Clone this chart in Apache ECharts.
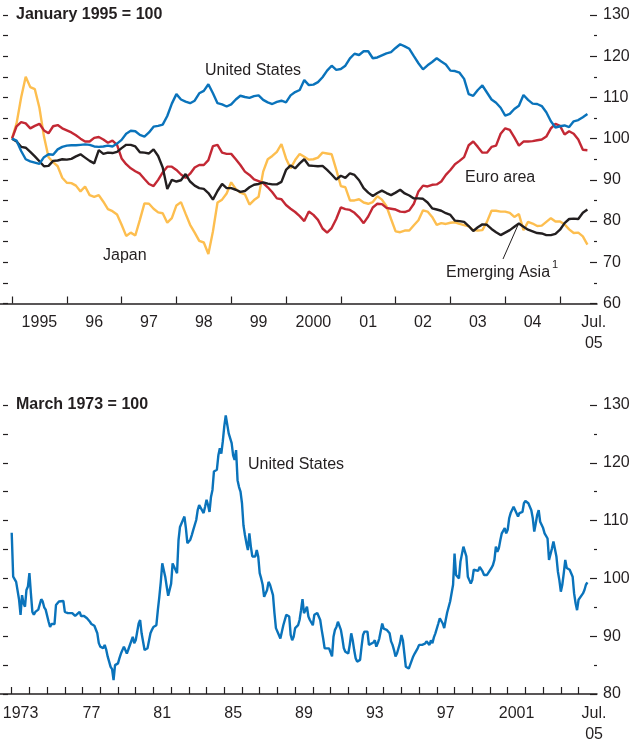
<!DOCTYPE html>
<html>
<head>
<meta charset="utf-8">
<script src="https://cdn.jsdelivr.net/npm/echarts@6/dist/echarts.min.js"></script>
<style>
  html, body { margin: 0; padding: 0; background: #fff; }
  #chart { width: 631px; height: 745px; }
</style>
</head>
<body>
<div id="chart"></div>
<script>
// top panel: monthly, Jan 1995 .. Jul 2005 (index 0 = Jan 1995)
const usTop = [100,99.5,97,95,94.5,94.2,93.9,95.5,96.2,96.1,97.4,98,
  98.3,98.4,98.4,98.5,98.6,98.5,98.1,98,98.1,98.3,98.1,98.8,
  99.7,101.2,101.9,101.8,100.9,100.5,101.5,102.9,103.1,103.4,105.5,108.5,
  110.8,109.5,109,108.6,109.2,111,111.6,113.2,111,108.6,108.3,107.8,
  108.3,109.5,110.4,110.1,109.9,110.3,110.5,109.4,108.8,108.4,108.9,109.2,
  108.8,110.5,111.3,111.8,114.2,113,113.1,113.7,114.9,116.5,117.7,116.7,
  116.9,117.7,119.5,120.6,120.3,121.2,121.2,119.5,119.7,120.2,120.7,121,
  122,122.9,122.4,121.8,120,118.3,116.8,117.8,118.6,119.5,118.7,118,
  116.5,116.4,116,114.5,110.8,110.4,111.8,112.9,111.2,109.5,108.7,107.5,
  105.6,106,107.2,108,110.6,109.4,108.5,108.4,107.9,106.4,104.2,102.7,
  103,103.2,102.8,104.2,104.5,105.2,106];
const euroTop = [100,103,104,103.7,102.5,103.1,103.6,102,101.3,103,103.3,102.5,
  102,101.5,100.8,100,99.3,99.3,100.2,100.4,99.8,99,99.5,98.5,
  95.2,93.8,92.8,92.1,91.5,90.2,89,88.5,90,91.8,93.2,93.2,
  92.4,91.3,90.5,91.5,93,93.6,93.6,94.8,98.2,98.5,96.6,96.3,
  96.3,95,93.6,92,91.2,90.1,89.7,89.2,88.2,87,85.5,85.3,
  83.9,83,82.2,81.2,80,82.3,81.5,80.3,78.2,77.2,78.3,80.5,
  83.3,82.9,82.7,82,80.9,79.5,81.1,83.3,84.2,84.1,83.2,83,
  82.8,82.3,82.2,82.6,84.2,87.2,88.6,88.4,88.8,88.9,89.6,91.2,
  92.4,93.8,94.6,95.5,98.4,99.3,98,96.6,96.6,98,98.3,101.2,
  102.5,102.1,100.3,98.3,99.3,99.3,99.4,99.6,99.8,100.5,102.5,103.6,
  103.1,101,101.8,101.2,99.8,97.3,97.2];
const japanTop = [100,103.7,110,115,112.5,112,107.5,100.5,95.5,94.3,93.3,90.5,
  89.3,89.2,88.6,87.2,88.4,86.3,85.9,86.3,84.7,82.9,82.4,81.6,
  79.1,76.4,77.2,76.5,80.3,84.3,84.2,83,82.1,81.9,79.6,80.7,
  83.8,84.6,81.8,79.1,77.2,75.2,74.8,72,77.5,84.5,85.2,86.7,
  89.4,87.8,86.9,86.5,84,85.1,85.9,92,95,95.8,96.8,98.7,
  95.2,92.8,94.8,96.3,95.6,94.9,95,95.4,96.6,96.4,96.2,92.5,
  88.5,88.2,85,85,85.3,84.5,84.2,84.6,86,85.2,83.6,80.5,
  77.5,77.3,77.7,77.7,79,80.2,82.6,82.3,81,79.1,79.5,79.3,
  79.6,79.7,79.3,79,78.7,77.8,77.7,77.8,79.8,82.5,82.5,82.3,
  82.3,82,81,81.7,77.8,79.8,79.4,78.8,78.9,79.8,80.7,79.9,
  79.9,79.2,78,77.1,77.2,76.3,74.3];
const asiaTop = [100,99.3,98,97.8,96.8,95.7,94.5,93.3,93.4,94.6,94.7,95,
  94.9,95.1,95.7,96.2,95.4,94.6,94,97.2,96.3,96.6,96.5,96.8,
  97.7,98.5,98.5,98.1,96.7,96.6,96.4,97.4,95.8,93,87.8,90,
  89.6,89.9,91.4,89.6,88.6,88,87.8,86.8,85.2,87.3,89,88,
  88,87.6,87.1,87.3,88.2,88.8,89,89.4,89.1,88.9,88.9,89.5,
  92.4,93.5,92.8,94,95,93.5,93.4,93.3,93.4,92.4,91.3,90.1,
  91,90.5,91.6,91.2,89.9,88,86.9,86.1,86.8,87.4,86.8,86.3,
  86.9,87.6,86.7,86.2,85.5,85.5,85.4,84.5,83.1,82.8,82.5,81.9,
  81.5,80.1,80,79.8,78.8,77.6,78.5,79.2,79.1,78.1,77.3,76.6,
  77.2,77.8,78.6,79.4,78.6,77.9,77.5,77.1,77,76.6,76.6,76.9,
  77.9,79.5,80.5,80.6,80.5,82,82.8];

// bottom panel: months since Jan 1973 and the index read at them
const longMonths = [0,1,2,3,5,6,7,8,9,10,11,12,13,14,15,16,18,20,21,22,23,25,26,27,29,30,32,33,35,36,38,39,
  41,43,44,46,47,49,51,53,54,56,58,59,60,62,63,64,65,67,68,69,70,72,73,74,76,77,78,79,80,82,83,84,86,87,88,
  90,91,92,94,95,96,98,99,100,101,102,104,105,106,107,108,109,110,112,113,114,115,116,117,118,119,121,122,
  123,124,125,126,127,128,130,131,132,133,134,135,136,137,139,140,141,142,143,144,145,147,148,149,150,151,
  152,153,154,155,156,157,158,159,160,161,162,163,165,166,167,168,169,170,171,173,174,175,177,178,179,180,
  181,182,183,184,186,187,188,189,190,191,192,194,195,196,197,198,199,200,201,202,203,204,205,207,208,209,
  210,211,212,213,215,216,217,218,219,220,221,222,223,224,225,226,228,229,230,231,232,233,234,236,237,238,
  239,240,241,242,243,245,246,247,248,249,250,251,252,254,255,256,257,258,259,260,261,263,264,265,266,267,
  268,269,270,272,273,274,275,276,277,278,280,281,282,283,284,285,286,287,289,290,291,292,293,294,295,296,
  297,299,300,301,302,303,304,305,306,308,309,310,311,312,313,314,316,317,318,319,320,321,322,323,325,326,
  327,328,329,330,331,332,334,335,336,337,338,339,340,341,343,344,345,346,347,348,349,350,352,353,354,355,
  356,357,358,360,361,362,363,364,365,366,367,369,370,371,372,373,374,375,376,378,379,380,381,382,383,384,
  385,387,388,389,390];
const longValues = [107.9,100.3,100,99.4,96.3,93.7,97.1,95.7,95.1,98,98.6,100.9,97.4,94.2,93.7,94.2,94.6,96.4,96,95,94.6,92.5,91.6,92.1,92.1,95.4,96,95.7,96.1,94.2,94,93.7,
  94,93.5,93.8,94.2,93.5,93.5,93.1,92.5,92.1,91.8,90.5,88.8,88.2,87.9,88.5,87.7,86.5,84.7,84.3,82.4,85,85.3,86.2,87,88.2,88.5,87,87.7,87.7,89.9,88.8,89.3,92.2,92.8,90.5,
  87.6,87.9,87.9,90.5,91.1,91.6,91.9,94.5,96.8,99.4,102.6,100.3,98.6,97,97.1,99.1,102.6,102.9,100.9,106.6,108.9,109.5,109.8,110.7,108.7,106.1,106.7,107.5,
  108.4,108.7,110.1,111.8,112.7,112.5,111.3,112.4,113.6,112.7,111.5,114.1,115.3,118.5,118.8,121.3,122.5,121.6,123.7,126.3,128.2,125.1,124.8,123.4,121.3,120.5,
  122.2,117,115.8,115,113,109.2,107.5,106.1,104.9,107.8,105.5,103.8,103.8,104.9,103.8,100.9,100,98.9,96.8,98,99.4,98.9,97.1,94,91.4,91.4,
  90.2,89.6,89.9,91.9,93.7,94,93.4,90.2,89.3,89.9,91.4,91.9,92.8,94.5,96.4,94,94.5,95.1,93.4,92.8,92.5,91.9,93.7,94,94.3,92.8,
  91.1,89.6,87.9,88.2,87.9,88.2,86.5,89.9,91.1,91.6,92.5,92.2,91.1,89.6,87.9,87.3,87,88.5,90.5,89.3,87.6,86.2,85.6,85.9,88.2,90.2,
  90.8,91.1,90.8,88.5,88.2,88.9,89.3,88.2,88.8,89.6,89.6,92.2,91.3,91.1,91.1,90.5,89.1,88.5,87.6,86.5,87,88.8,90.2,89.3,87,84.7,
  84.4,84.4,84.3,86.5,87,87.3,87.9,88.5,88.5,88.5,88.7,89.1,89.1,88.5,89.3,88.8,89.8,90.5,92.2,93.1,93.4,92.2,91.4,92.8,94.1,94.4,
  96,98.9,104.3,100.6,100.4,100,102.9,103.2,105.5,103.8,100.3,99.7,99.1,99.7,101.5,101.8,101.3,102,102.3,101.2,100.6,100.3,100.6,100.3,101.8,102.3,
  103.2,105.5,104.6,105.2,106.6,107.8,108.7,107.8,108.4,110.4,111.3,111.6,112.4,112.5,110.7,111.3,111.5,111.5,113,113.4,113.2,113,111.8,110.4,108.1,109.5,
  111,111.8,109.8,108.7,107.8,107.8,106.9,103.2,102.9,105.2,106.4,103.8,101.2,99.7,97.7,98.9,100.9,103.2,101.8,101.5,100.9,100.3,97.4,95.7,94.5,96.3,
  96,97.4,98,98.9,99.3];

// axis ticks and labels (month offsets)
const topTicks = [0,12,24,36,48,60,72,84,96,108,120];
const topLabelPos = [6,18,30,42,54,66,78,90,102,114,127.4];
const topLabels = ['1995','96','97','98','99','2000','01','02','03','04','Jul.\n05'];
const longTicks = [];
for (let y = 0; y <= 32; y++) longTicks.push(y * 12);
const longLabelPos = [6,54,102,150,198,246,294,342,394.5];
const longLabels = ['1973','77','81','85','89','93','97','2001','Jul.\n05'];

const INK = '#231f20';
const FONT = "'Liberation Sans', Arial, sans-serif";
const BLUE = '#0a73bb', RED = '#c32834', YELLOW = '#fdbe4f', BLACK = '#231f20';

const pairs = arr => arr.map((v, i) => [i, v]);

function xAxisFor(grid, min, max, ticks, labelPos, labels) {
  return {
    type: 'value', gridIndex: grid, min: min, max: max,
    axisLine: { onZero: false, lineStyle: { color: INK, width: 1.5 } },
    axisTick: { inside: true, length: 7, customValues: ticks, lineStyle: { color: INK, width: 1.2 } },
    axisLabel: {
      customValues: labelPos,
      formatter: v => labels[labelPos.indexOf(v)],
      color: INK, fontFamily: FONT, fontSize: 16, lineHeight: 21, margin: 9
    },
    splitLine: { show: false }
  };
}
function rightAxis(grid, min, max) {
  return {
    type: 'value', gridIndex: grid, position: 'right', min: min, max: max, interval: 10,
    axisLine: { show: false, onZero: false },
    axisTick: { show: true, inside: true, length: 7, lineStyle: { color: INK, width: 1.2 } },
    minorTick: { show: true, splitNumber: 2, length: 3, lineStyle: { color: INK, width: 1.2 } },
    axisLabel: { color: INK, fontFamily: FONT, fontSize: 16, margin: 6 },
    splitLine: { show: false }
  };
}
function leftAxis(grid, min, max) {
  return {
    type: 'value', gridIndex: grid, position: 'left', min: min, max: max, interval: 5, offset: -3,
    axisLine: { show: false, onZero: false },
    axisTick: { show: true, inside: true, length: 5, lineStyle: { color: INK, width: 1.2 } },
    axisLabel: { show: false },
    splitLine: { show: false }
  };
}
function line(name, data, color, xi, yi) {
  return {
    name: name, type: 'line', data: data, xAxisIndex: xi, yAxisIndex: yi,
    symbol: 'none', lineStyle: { color: color, width: 2.4 }, color: color
  };
}
function label(text, x, y, bold, size) {
  return {
    type: 'text', x: x, y: y,
    style: { text: text, fill: INK, font: (bold ? 'bold ' : '') + (size || 16) + 'px ' + FONT, verticalAlign: 'middle' }
  };
}

const chart = echarts.init(document.getElementById('chart'));
chart.setOption({
  animation: false,
  backgroundColor: '#fff',
  grid: [
    { left: 0, right: 34, top: 15, height: 288.5, outerBoundsMode: 'none' },
    { left: 0, right: 34, top: 405, height: 289, outerBoundsMode: 'none' }
  ],
  xAxis: [
    xAxisFor(0, -2.63, 128.1, topTicks, topLabelPos, topLabels),
    xAxisFor(1, -7.93, 396.5, longTicks, longLabelPos, longLabels)
  ],
  yAxis: [
    rightAxis(0, 60, 130), leftAxis(0, 60, 130),
    rightAxis(1, 80, 130), leftAxis(1, 80, 130)
  ],
  series: [
    line('Japan', pairs(japanTop), YELLOW, 0, 0),
    line('Euro area', pairs(euroTop), RED, 0, 0),
    line('Emerging Asia', pairs(asiaTop), BLACK, 0, 0),
    line('United States', pairs(usTop), BLUE, 0, 0),
    line('United States (since 1973)', longMonths.map((m, i) => [m, longValues[i]]), BLUE, 1, 2)
  ],
  graphic: [
    label('January 1995 = 100', 16, 15, true, 16),
    label('March 1973 = 100', 16, 405, true, 16),
    label('United States', 205, 71),
    label('Euro area', 465, 178),
    label('Japan', 103, 255.5),
    label('Emerging Asia', 446, 273),
    label('1', 552, 265, false, 11),
    { type: 'line', shape: { x1: 503, y1: 259, x2: 518, y2: 225 }, style: { stroke: INK, lineWidth: 1 } },
    label('United States', 248, 465)
  ]
});
</script>
</body>
</html>
